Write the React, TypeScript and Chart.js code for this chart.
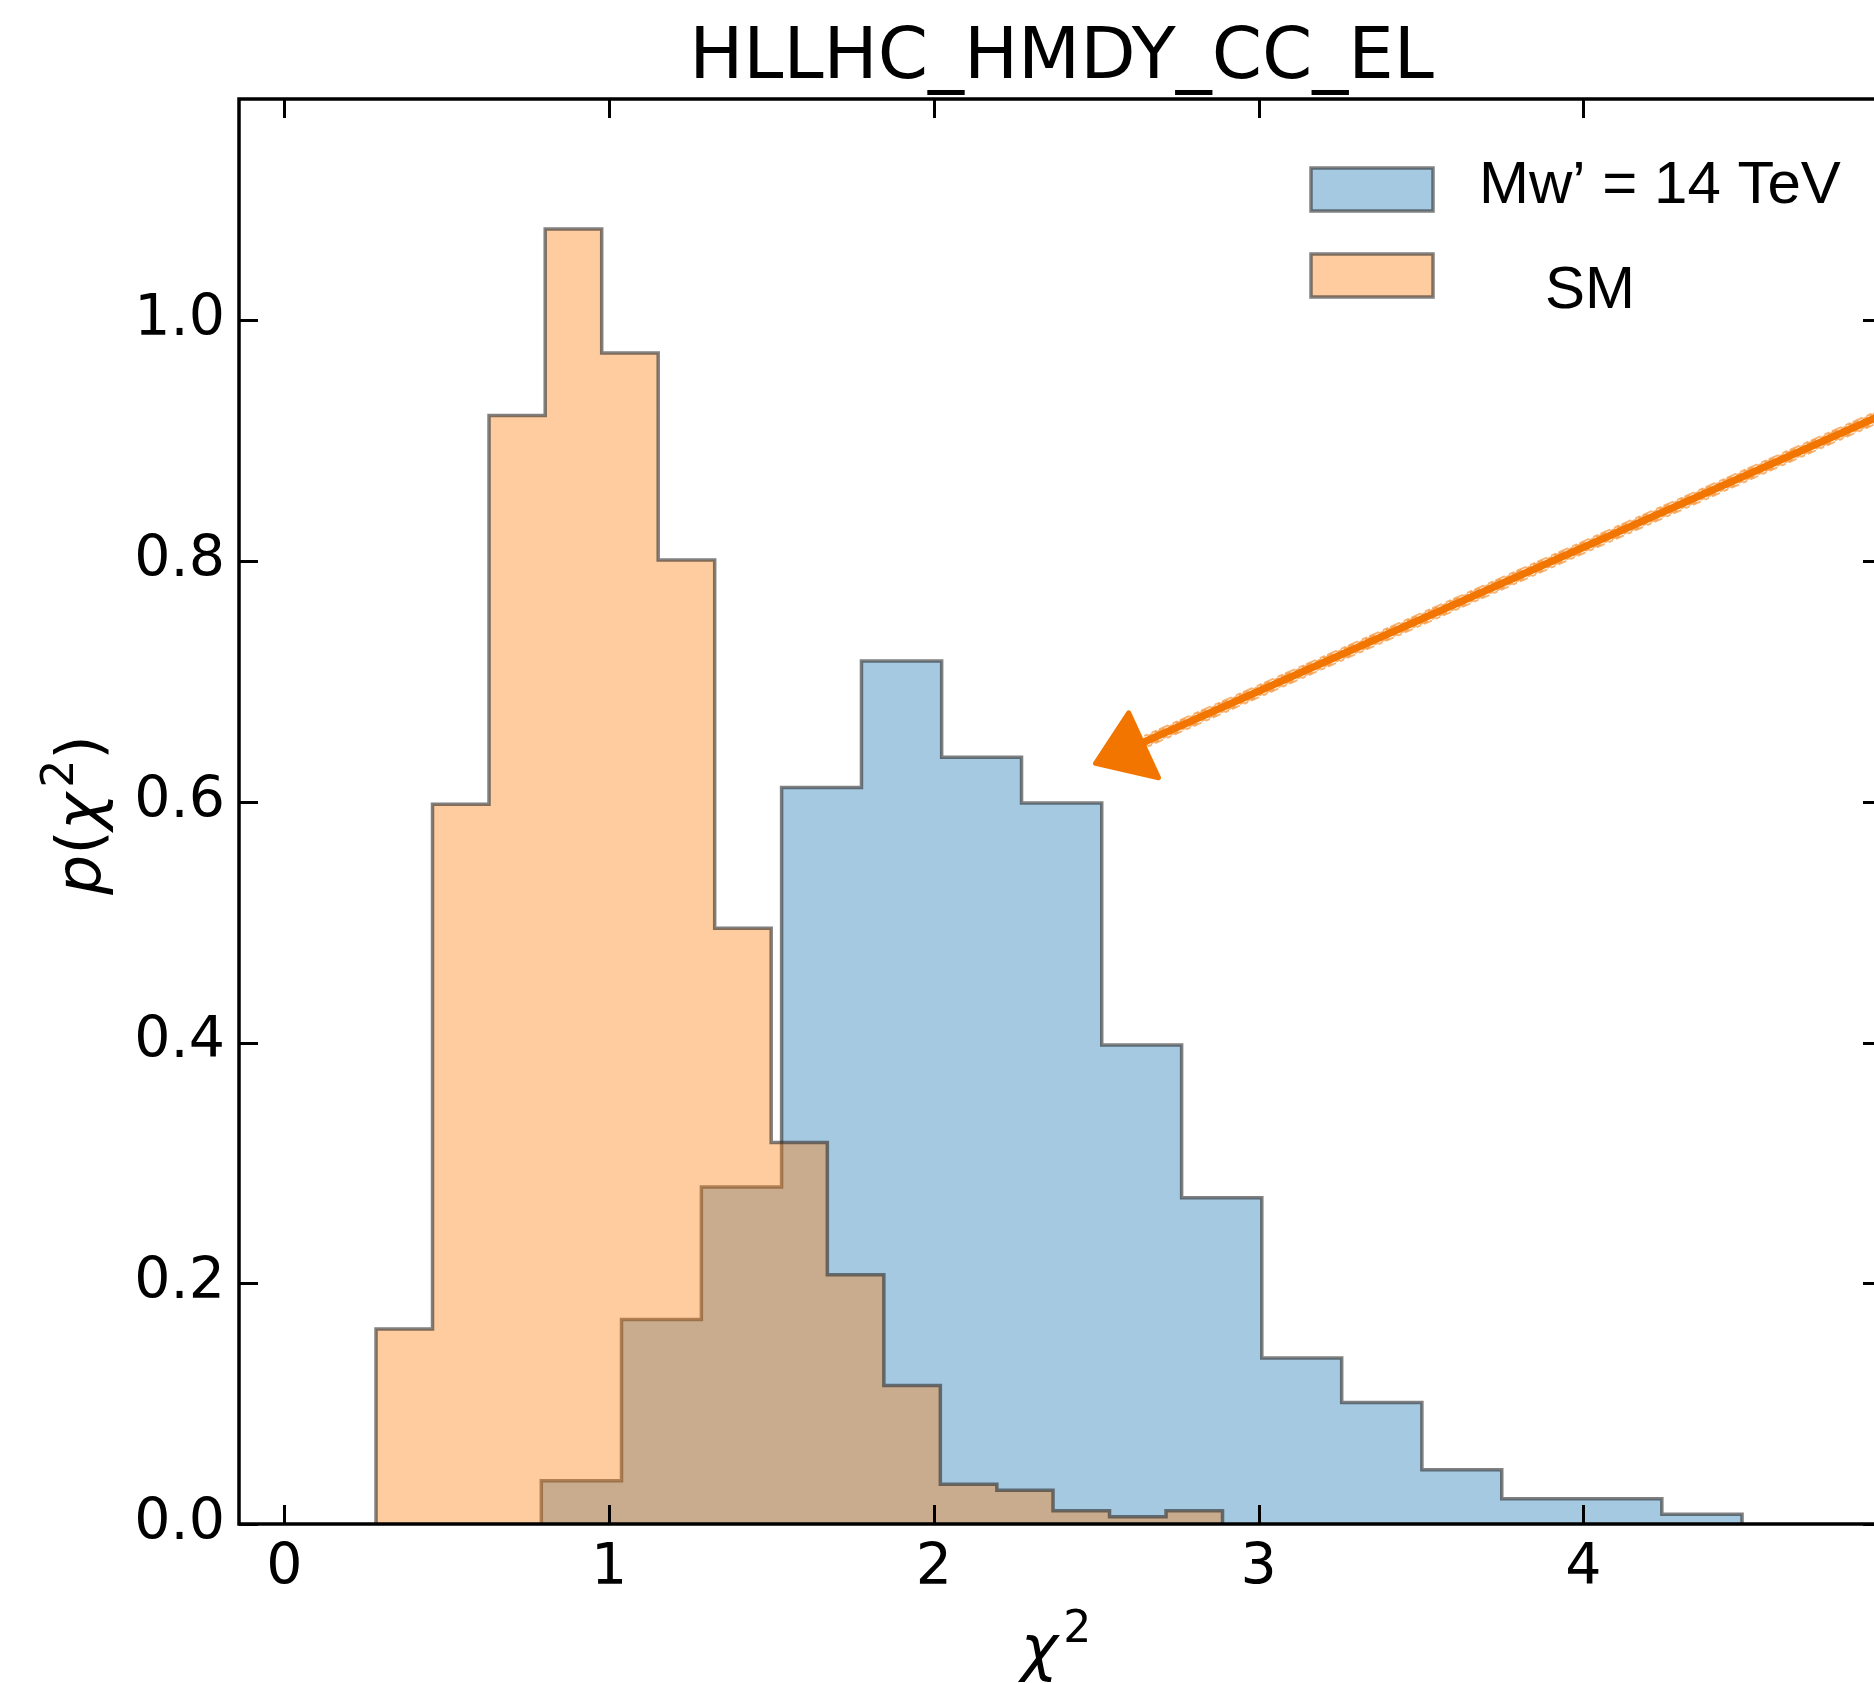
import React, { useEffect, useRef } from "react";
import { Chart, registerables } from "chart.js";

Chart.register(...registerables);

// ---- data -------------------------------------------------------------
const TITLE = "HLLHC_HMDY_CC_EL";
const SERIES_LABELS = ["Mw’ = 14 TeV", "SM"];

// W' (14 TeV) chi^2 density histogram: 15 bins
const WPRIME_EDGES = [
  0.791, 1.038, 1.284, 1.531, 1.777, 2.024, 2.27, 2.517, 2.763, 3.01, 3.256,
  3.503, 3.749, 3.996, 4.242, 4.489,
];
const WPRIME_DENSITY = [
  0.036, 0.17, 0.28, 0.612, 0.717, 0.637, 0.599, 0.398, 0.271, 0.138, 0.101,
  0.045, 0.021, 0.021, 0.008,
];

// Standard Model chi^2 density histogram: 15 bins
const SM_EDGES = [
  0.282, 0.456, 0.63, 0.803, 0.977, 1.151, 1.325, 1.499, 1.672, 1.846, 2.02,
  2.194, 2.367, 2.541, 2.715, 2.889,
];
const SM_DENSITY = [
  0.162, 0.598, 0.921, 1.076, 0.973, 0.801, 0.495, 0.317, 0.207, 0.115, 0.033,
  0.028, 0.011, 0.006, 0.011,
];

const X_TICKS = [0, 1, 2, 3, 4];
const Y_TICKS = [0, 0.2, 0.4, 0.6, 0.8, 1.0];
const X_RANGE = [-0.14, 4.92];
const Y_RANGE = [0, 1.184];

// hand-drawn pointer, in data coordinates
const ARROW_LINE = [
  [4.9, 0.919],
  [2.65, 0.65],
];
const ARROW_HEAD = [
  [2.6, 0.674],
  [2.498, 0.632],
  [2.692, 0.62],
];

// ---- styling ------------------------------------------------------------
const BLUE_FILL = "rgba(31,119,180,0.4)";
const ORANGE_FILL = "rgba(255,127,14,0.4)";
const EDGE = "rgba(45,45,45,0.6)";
const ARROW_COLOR = "#f27500";
const MATH_FONT = '"DejaVu Sans"';
const TEXT_FONT = '"Liberation Sans", Arial, sans-serif';

const CANVAS_W = 1890;
const CANVAS_H = 1683;
const TICK_LEN = 19;

type Pt = { x: number; y: number };

// histogram outline for a 'before'-stepped line: each point (edge_i, value_i)
// is reached horizontally, so bin i spans edge_i..edge_{i+1} at value_i
function stepOutline(edges: number[], values: number[]): Pt[] {
  const pts: Pt[] = [{ x: edges[0], y: 0 }];
  values.forEach((v, i) => pts.push({ x: edges[i], y: v }));
  pts.push({ x: edges[edges.length - 1], y: 0 });
  return pts;
}

type MathPart = { t: string; italic?: boolean; sup?: boolean };

// draws a short mathtext-like run centred on (0,0) with baseline at y=0
function drawMath(ctx: CanvasRenderingContext2D, parts: MathPart[], size: number) {
  const fontFor = (p: MathPart) =>
    `${p.italic ? "italic " : ""}${p.sup ? size * 0.7 : size}px ${MATH_FONT}`;
  const gaps = parts.map((p) => (p.sup ? size * 0.08 : 0));
  const widths = parts.map((p) => {
    ctx.font = fontFor(p);
    return ctx.measureText(p.t).width;
  });
  const total = widths.reduce((a, b, i) => a + b + gaps[i], 0);
  let x = -total / 2;
  ctx.textAlign = "left";
  ctx.textBaseline = "alphabetic";
  parts.forEach((p, i) => {
    ctx.font = fontFor(p);
    x += gaps[i];
    ctx.fillText(p.t, x, p.sup ? -size * 0.43 : 0);
    x += widths[i];
  });
}

const decorPlugin = {
  id: "histDecor",
  afterDraw(chart: any) {
    const { ctx, chartArea: a, scales } = chart;
    const sx = scales.x;
    const sy = scales.y;
    ctx.save();

    // frame
    ctx.strokeStyle = "#000";
    ctx.lineWidth = 3.5;
    ctx.strokeRect(a.left, a.top, a.right - a.left, a.bottom - a.top);

    // inward ticks on all four sides
    ctx.lineWidth = 3;
    ctx.beginPath();
    for (const t of X_TICKS) {
      const px = Math.round(sx.getPixelForValue(t)) + 0.5;
      ctx.moveTo(px, a.bottom);
      ctx.lineTo(px, a.bottom - TICK_LEN);
      ctx.moveTo(px, a.top);
      ctx.lineTo(px, a.top + TICK_LEN);
    }
    for (const t of Y_TICKS) {
      const py = Math.round(sy.getPixelForValue(t)) + 0.5;
      ctx.moveTo(a.left, py);
      ctx.lineTo(a.left + TICK_LEN, py);
      ctx.moveTo(a.right, py);
      ctx.lineTo(a.right - TICK_LEN, py);
    }
    ctx.stroke();

    // title
    ctx.fillStyle = "#000";
    ctx.font = `72px ${MATH_FONT}`;
    ctx.textAlign = "center";
    ctx.textBaseline = "alphabetic";
    ctx.fillText(TITLE, (a.left + a.right) / 2 + 1, 77.5);

    // axis labels
    ctx.save();
    ctx.translate(1056, 1669);
    drawMath(ctx, [{ t: "χ", italic: true }, { t: "2", sup: true }], 63);
    ctx.restore();

    ctx.save();
    ctx.translate(100, 815);
    ctx.rotate(-Math.PI / 2);
    drawMath(
      ctx,
      [
        { t: "p", italic: true },
        { t: "(" },
        { t: "χ", italic: true },
        { t: "2", sup: true },
        { t: ")" },
      ],
      63
    );
    ctx.restore();

    // legend
    const fills = [BLUE_FILL, ORANGE_FILL];
    const rows = [
      { py: 168, tx: 1479, base: 203 },
      { py: 254, tx: 1545, base: 308 },
    ];
    rows.forEach((r, i) => {
      ctx.fillStyle = fills[i];
      ctx.fillRect(1311, r.py, 122, 43);
      ctx.strokeStyle = EDGE;
      ctx.lineWidth = 3.5;
      ctx.strokeRect(1311, r.py, 122, 43);
      ctx.fillStyle = "#000";
      ctx.font = `60px ${TEXT_FONT}`;
      ctx.textAlign = "left";
      ctx.textBaseline = "alphabetic";
      ctx.fillText(SERIES_LABELS[i], r.tx, r.base);
    });

    // pointer arrow (marker-pen look: solid core with soft ragged edges)
    const P = (p: number[]) => [sx.getPixelForValue(p[0]), sy.getPixelForValue(p[1])];
    const [l0, l1] = ARROW_LINE.map(P);
    ctx.strokeStyle = ARROW_COLOR;
    ctx.fillStyle = ARROW_COLOR;
    ctx.lineCap = "round";
    ctx.lineJoin = "round";
    ctx.lineWidth = 7.5;
    ctx.beginPath();
    ctx.moveTo(l0[0], l0[1]);
    ctx.lineTo(l1[0], l1[1]);
    ctx.stroke();
    ctx.globalAlpha = 0.55;
    ctx.lineWidth = 2;
    for (const off of [-6, -4.5, 4.5, 6]) {
      ctx.setLineDash(off > 0 ? [7, 5, 3, 6] : [4, 6, 9, 4]);
      ctx.lineDashOffset = Math.abs(off) * 3;
      ctx.beginPath();
      ctx.moveTo(l0[0], l0[1] + off);
      ctx.lineTo(l1[0], l1[1] + off);
      ctx.stroke();
    }
    ctx.setLineDash([]);
    ctx.globalAlpha = 1;
    const head = ARROW_HEAD.map(P);
    ctx.lineWidth = 5;
    ctx.beginPath();
    ctx.moveTo(head[0][0], head[0][1]);
    ctx.lineTo(head[1][0], head[1][1]);
    ctx.lineTo(head[2][0], head[2][1]);
    ctx.closePath();
    ctx.fill();
    ctx.stroke();

    ctx.restore();
  },
};

export default function App() {
  const canvasRef = useRef<HTMLCanvasElement | null>(null);

  useEffect(() => {
    const canvas = canvasRef.current;
    if (!canvas) return;
    const tickFont = { family: MATH_FONT, size: 57 };
    const chart = new Chart(canvas, {
      type: "line",
      data: {
        datasets: [
          {
            label: SERIES_LABELS[0],
            data: stepOutline(WPRIME_EDGES, WPRIME_DENSITY),
            stepped: "before",
            fill: "origin",
            backgroundColor: BLUE_FILL,
            borderColor: EDGE,
            borderWidth: 3.5,
            pointRadius: 0,
            order: 1,
          },
          {
            label: SERIES_LABELS[1],
            data: stepOutline(SM_EDGES, SM_DENSITY),
            stepped: "before",
            fill: "origin",
            backgroundColor: ORANGE_FILL,
            borderColor: EDGE,
            borderWidth: 3.5,
            pointRadius: 0,
            order: 0,
          },
        ],
      },
      options: {
        animation: false,
        responsive: false,
        devicePixelRatio: 1,
        layout: { padding: { top: 99, right: 8, left: 0, bottom: 0 } },
        plugins: {
          legend: { display: false },
          title: { display: false },
          tooltip: { enabled: false },
        },
        scales: {
          x: {
            type: "linear",
            min: X_RANGE[0],
            max: X_RANGE[1],
            afterBuildTicks: (s: any) => {
              s.ticks = X_TICKS.map((v) => ({ value: v }));
            },
            afterFit: (s: any) => {
              s.height = 159;
            },
            ticks: {
              font: tickFont,
              color: "#000",
              padding: 11,
              maxRotation: 0,
              autoSkip: false,
              callback: (v: any) => String(v),
            },
            grid: { display: false, drawTicks: false },
            border: { display: false },
          },
          y: {
            type: "linear",
            min: Y_RANGE[0],
            max: Y_RANGE[1],
            afterBuildTicks: (s: any) => {
              s.ticks = Y_TICKS.map((v) => ({ value: v }));
            },
            afterFit: (s: any) => {
              s.width = 239;
            },
            ticks: {
              font: tickFont,
              color: "#000",
              padding: 14,
              autoSkip: false,
              callback: (v: any) => Number(v).toFixed(1),
            },
            grid: { display: false, drawTicks: false },
            border: { display: false },
          },
        },
      },
      plugins: [decorPlugin],
    } as any);
    return () => chart.destroy();
  }, []);

  return (
    <div
      style={{
        position: "absolute",
        left: 0,
        top: 0,
        width: 1874,
        height: CANVAS_H,
        overflow: "hidden",
        background: "#fff",
      }}
    >
      <canvas
        ref={canvasRef}
        width={CANVAS_W}
        height={CANVAS_H}
        style={{ width: CANVAS_W, height: CANVAS_H, display: "block" }}
      />
    </div>
  );
}
